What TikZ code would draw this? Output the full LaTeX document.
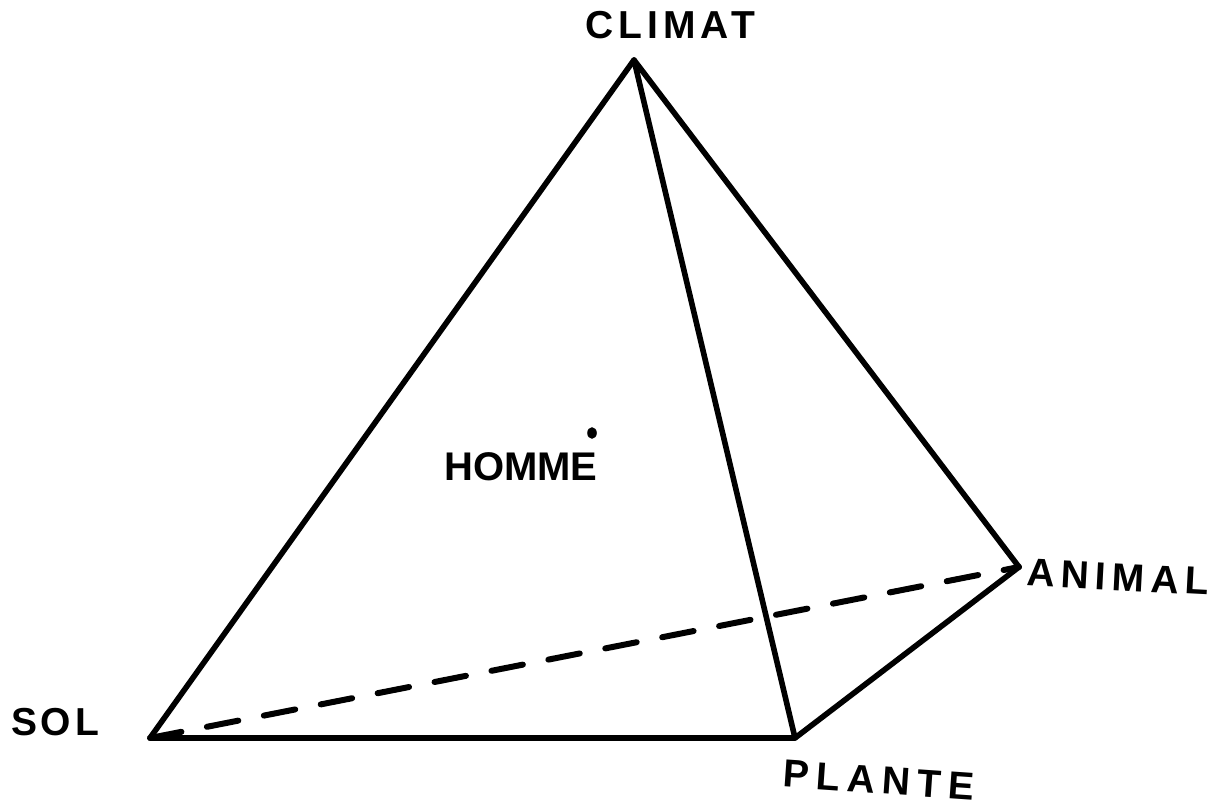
\documentclass[tikz,border=0pt]{standalone}
\usepackage{fontspec}
\setmainfont{Liberation Sans}
\begin{document}
\begin{tikzpicture}[x=0.5pt,y=-0.5pt,
  edge/.style={line width=2.8pt,line cap=round,line join=round},
  hidden/.style={line width=3pt,line cap=round,dash pattern=on 16pt off 13pt},
  lab/.style={inner sep=0pt,font=\fontsize{19.5}{19.5}\selectfont\bfseries}]
\useasboundingbox (0,0) rectangle (1220,812);
\coordinate (C) at (634,60);
\coordinate (S) at (150,738);
\coordinate (P) at (795,738);
\coordinate (A) at (1019,567);
\draw[hidden] (S) -- (A);
\draw[edge] (S) -- (C) -- (A) -- (P) -- cycle;
\draw[edge] (C) -- (P);
\node[lab] (lclimat) at (670,25) {\addfontfeature{LetterSpace=13}CLIMAT};
\node[lab] (lsol) at (55,722) {\addfontfeature{LetterSpace=10}SOL};
\node[lab,rotate=-4] (lplante) at (879,780) {\addfontfeature{LetterSpace=18}PLANTE};
\node[lab,rotate=-3] (lanimal) at (1118,577) {\addfontfeature{LetterSpace=16}ANIMAL};
\node[lab,font=\fontsize{20}{20}\selectfont\bfseries] (lhomme) at (521,467) {HOMME};
\fill (592,433) ellipse (2.4pt and 2.9pt) coordinate (H);
\end{tikzpicture}
\end{document}
